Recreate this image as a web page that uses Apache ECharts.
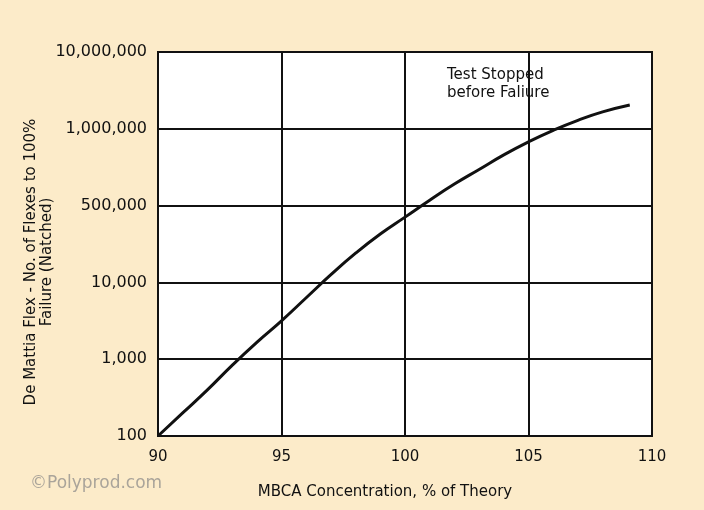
<!DOCTYPE html>
<html>
<head>
<meta charset="utf-8">
<script src="https://cdn.jsdelivr.net/npm/echarts@6/dist/echarts.min.js"></script>
<style>
  html, body { margin: 0; padding: 0; background: #fcebc9; }
  #chart { width: 704px; height: 510px; }
</style>
</head>
<body>
<div id="chart"></div>
<script>
// tick labels for the (evenly spaced) y axis, bottom to top
const yTickLabels = ['100', '1,000', '10,000', '500,000', '1,000,000', '10,000,000'];
const xTicks = [90, 95, 100, 105, 110];

// MBCA concentration (% of theory)
const concentration = [90, 91, 92, 93, 94, 95, 96, 97, 98, 99, 100, 101, 102, 103, 104, 105, 106, 107, 108, 109.1];
// position on the y scale (0 = 100 ... 5 = 10,000,000)
const flexLevel = [0, 0.3, 0.6, 0.92, 1.22, 1.5, 1.8, 2.1, 2.38, 2.63, 2.85, 3.07, 3.28, 3.47, 3.66, 3.83, 3.98, 4.11, 4.22, 4.31];

const chart = echarts.init(document.getElementById('chart'));
const font = "'DejaVu Sans', sans-serif";

const option = {
  backgroundColor: '#fcebc9',
  animation: false,
  grid: {
    left: 158,
    right: 52,
    top: 52,
    bottom: 74,
    show: true,
    backgroundColor: '#ffffff',
    borderColor: '#111',
    borderWidth: 2,
  },
  xAxis: {
    type: 'value',
    min: 90,
    max: 110,
    interval: 5,
    name: 'MBCA Concentration, % of Theory',
    nameLocation: 'middle',
    nameGap: 49,
    nameTextStyle: { color: '#111', fontSize: 15, fontFamily: font, padding: [0, 40, 0, 0] },
    axisLine: { show: false },
    axisTick: { show: false },
    axisLabel: {
      color: '#111',
      fontSize: 15,
      fontFamily: font,
      margin: 14,
      formatter: (v) => (xTicks.includes(v) ? String(v) : ''),
    },
    splitLine: { show: true, lineStyle: { color: '#111', width: 2 } },
  },
  yAxis: {
    type: 'value',
    min: 0,
    max: 5,
    interval: 1,
    name: 'De Mattia Flex - No. of Flexes to 100%\nFailure (Natched)',
    nameLocation: 'middle',
    nameGap: 103,
    nameMoveOverlap: false,
    nameRotate: 90,
    nameTextStyle: {
      color: '#111',
      fontSize: 15,
      fontFamily: font,
      lineHeight: 16,
      padding: [0, 36, 0, 0],
    },
    axisLine: { show: false },
    axisTick: { show: false },
    axisLabel: {
      color: '#111',
      fontSize: 16,
      fontFamily: font,
      margin: 11,
      formatter: (v) => yTickLabels[Math.round(v)] || '',
    },
    splitLine: { show: true, lineStyle: { color: '#111', width: 2 } },
  },
  graphic: [
    {
      type: 'text',
      left: 447,
      top: 66,
      style: {
        text: 'Test Stopped\nbefore Faliure',
        fill: '#111',
        fontSize: 15,
        fontFamily: font,
        lineHeight: 18,
        align: 'left',
      },
    },
    {
      type: 'text',
      left: 30,
      top: 475,
      style: {
        text: '©Polyprod.com',
        fill: '#aaa49a',
        fontSize: 17,
        fontFamily: font,
      },
    },
  ],
  series: [
    {
      type: 'line',
      data: concentration.map((x, i) => [x, flexLevel[i]]),
      smooth: true,
      showSymbol: false,
      lineStyle: { color: '#111', width: 3 },
    },
  ],
};

chart.setOption(option);
</script>
</body>
</html>
